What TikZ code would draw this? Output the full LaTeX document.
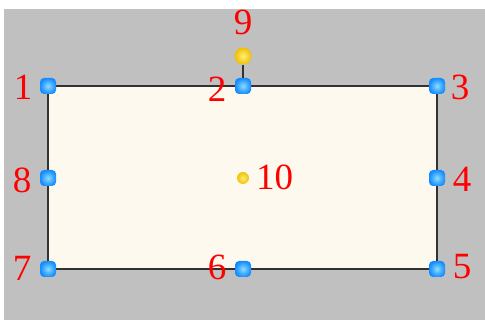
\documentclass[tikz,border=0pt]{standalone}
\usepackage{fontspec}
\setmainfont{Liberation Serif}
\begin{document}
\begin{tikzpicture}[x=1pt,y=-1pt,
  handle/.style={draw=none,rounded corners=4pt,minimum size=16pt,inner sep=0pt,
    shading=radial,inner color={rgb,255:red,140;green,220;blue,255},outer color={rgb,255:red,20;green,140;blue,255}},
  knob/.style={circle,draw=none,minimum size=17pt,inner sep=0pt,
    shading=radial,inner color={rgb,255:red,255;green,240;blue,120},outer color={rgb,255:red,240;green,190;blue,0}},
  cdot/.style={circle,draw=none,minimum size=12pt,inner sep=0pt,
    shading=radial,inner color={rgb,255:red,255;green,235;blue,110},outer color={rgb,255:red,240;green,195;blue,10}},
  lbl/.style={text=red,font=\fontsize{37}{37}\selectfont,inner sep=0pt}]
\definecolor{bg}{RGB}{192,192,192}
\definecolor{cream}{RGB}{254,249,238}
\definecolor{edge}{RGB}{50,50,50}
\useasboundingbox (0,0) rectangle (485,320);
\fill[white] (0,0) rectangle (485,320);
\fill[bg] (4,9) rectangle (485,320);
\draw[edge,line width=2.2pt,fill=cream] (48,86) rectangle (437,269);
\node[knob] (h9) at (243,56) {};
\node[handle] (h1) at (48,86) {};
\node[handle] (h2) at (243,86) {};
\node[handle] (h3) at (437,86) {};
\node[handle] (h4) at (437,178) {};
\node[handle] (h5) at (437,269) {};
\node[handle] (h6) at (243,269) {};
\node[handle] (h7) at (48,269) {};
\node[handle] (h8) at (48,178) {};
\node[cdot] (h10) at (243,178) {};
\draw[edge,line width=2.2pt] (h2) -- (h9);
\node[lbl] (l1) at (23,87) {1};
\node[lbl] (l2) at (217,89) {2};
\node[lbl] (l3) at (460,87) {3};
\node[lbl] (l4) at (462,179) {4};
\node[lbl] (l5) at (462,267) {5};
\node[lbl] (l6) at (217,267) {6};
\node[lbl] (l7) at (22,268) {7};
\node[lbl] (l8) at (22,180) {8};
\node[lbl] (l9) at (243,22) {9};
\node[lbl,anchor=west] (l10) at (256,177) {10};
\end{tikzpicture}
\end{document}
